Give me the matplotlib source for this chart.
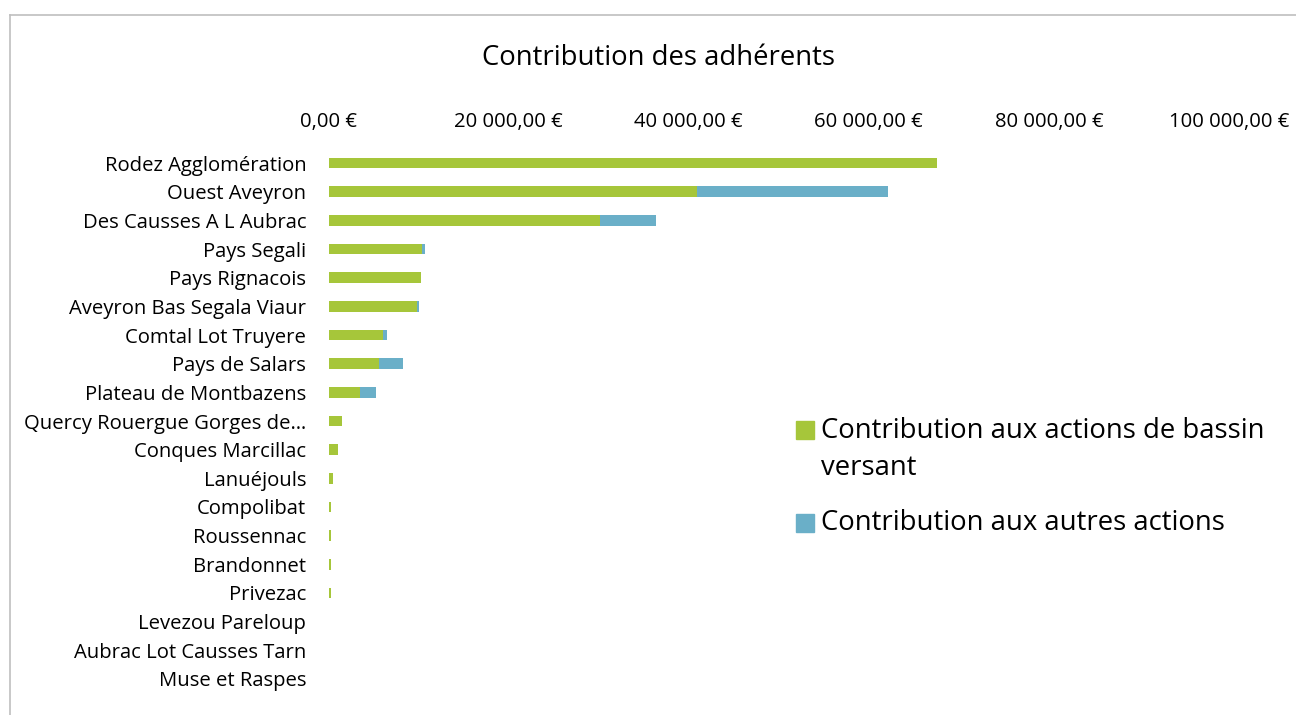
import numpy as np
import matplotlib.pyplot as plt
from matplotlib.ticker import FuncFormatter, MultipleLocator
from matplotlib.lines import Line2D
from matplotlib.patches import Rectangle

plt.rcParams['font.family'] = ['Open Sans', 'DejaVu Sans']

# Data (euros)
communes = ["Rodez Agglomération", "Ouest Aveyron", "Des Causses A L Aubrac",
            "Pays Segali", "Pays Rignacois", "Aveyron Bas Segala Viaur",
            "Comtal Lot Truyere", "Pays de Salars", "Plateau de Montbazens",
            "Quercy Rouergue Gorges de…", "Conques Marcillac", "Lanuéjouls",
            "Compolibat", "Roussennac", "Brandonnet", "Privezac",
            "Levezou Pareloup", "Aubrac Lot Causses Tarn", "Muse et Raspes"]
bassin = [67600, 40900, 30100, 10400, 10300, 9870, 6100, 5640, 3530,
          1550, 1100, 450, 330, 330, 300, 300, 50, 0, 0]
autres = [0, 21200, 6300, 330, 0, 220, 440, 2670, 1710,
          0, 0, 0, 0, 0, 0, 0, 0, 0, 0]

label_bassin = ["Contribution aux actions de bassin", "versant"]
label_autres = "Contribution aux autres actions"
green = "#A6C63A"
blue = "#6AAFC8"

W, H = 1296, 715
fig = plt.figure(figsize=(W / 100, H / 100), dpi=100)
ax = fig.add_axes([328.5 / W, 1 - 693.3 / H, (1229 - 328.5) / W, (693.3 - 148.7) / H])

y = np.arange(len(communes))
ax.barh(y, bassin, height=0.37, color=green)
ax.barh(y, autres, left=bassin, height=0.37, color=blue)

ax.set_xlim(0, 100000)
ax.set_ylim(len(communes) - 0.5, -0.5)
ax.set_yticks(y)
ax.set_yticklabels(communes, fontsize=14.6)
ax.xaxis.tick_top()
ax.xaxis.set_major_locator(MultipleLocator(20000))
ax.xaxis.set_major_formatter(FuncFormatter(
    lambda v, p: "{:,.2f} €".format(v).replace(",", " ").replace(".", ",")))
ax.tick_params(axis='x', length=0, pad=12, labelsize=14.6)
ax.tick_params(axis='y', length=0, pad=16)
for s in ax.spines.values():
    s.set_visible(False)

fig.text(658 / W, 1 - 58 / H, "Contribution des adhérents", ha='center', va='center', fontsize=19.8)

# chart frame
fig.add_artist(Line2D([10 / W, 10 / W], [0, 1 - 15 / H], color='#BFBFBF', lw=1.2))
fig.add_artist(Line2D([10 / W, 1], [1 - 15 / H, 1 - 15 / H], color='#BFBFBF', lw=1.2))

# legend, laid out like the Excel one (handle on the first line of a wrapped label)
fig.add_artist(Rectangle((796 / W, 1 - 439 / H), 18 / W, 18 / H, color=green))
fig.add_artist(Rectangle((796 / W, 1 - 532 / H), 18 / W, 18 / H, color=blue))
fig.text(821 / W, 1 - 431 / H, label_bassin[0], va='center', fontsize=19.8)
fig.text(821 / W, 1 - 468 / H, label_bassin[1], va='center', fontsize=19.8)
fig.text(821 / W, 1 - 523 / H, label_autres, va='center', fontsize=19.8)

fig.savefig("out.png", dpi=100)
